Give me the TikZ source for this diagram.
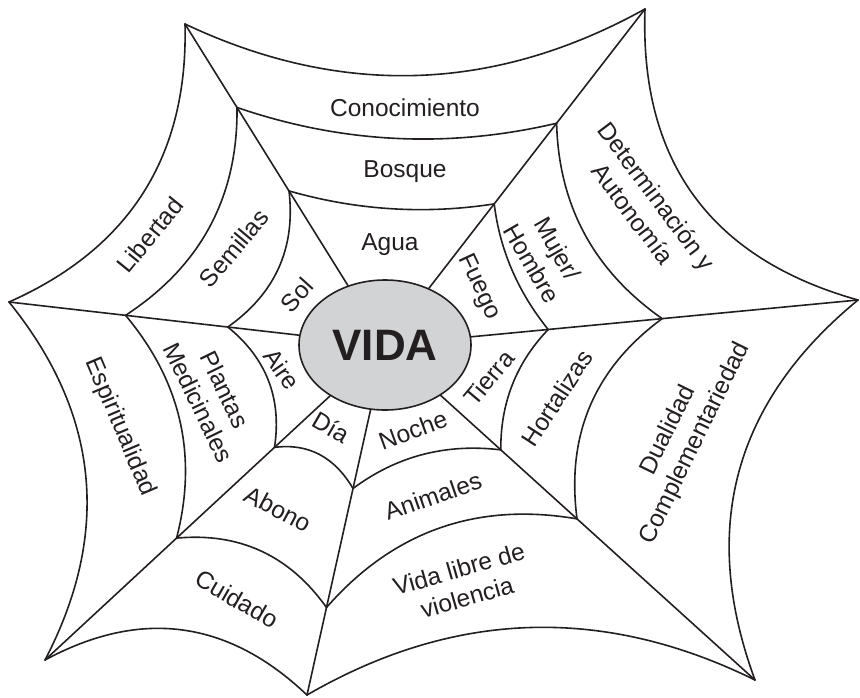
\documentclass[tikz,border=0pt]{standalone}
\usepackage{fontspec}
\setmainfont{Liberation Sans}
\usetikzlibrary{shapes.geometric,calc}
\definecolor{ink}{HTML}{231F20}
\definecolor{vgray}{HTML}{D1D3D4}
\newcommand\webarc[3]{\draw[web] (#1) .. controls ($(#1)!2/3!(#3)$) and ($(#2)!2/3!(#3)$) .. (#2);}
\begin{document}
\begin{tikzpicture}[x=1pt,y=-1pt,
  web/.style={line width=1.6pt, draw=ink, line join=round, line cap=round},
  lbl/.style={font=\fontsize{24.5}{29.5}\selectfont, text=ink, align=center, inner sep=0pt},
]
\useasboundingbox (0,0) rectangle (860,697);
\coordinate (c) at (385,345);
% outer vertices
\coordinate (TL3) at (185,24);
\coordinate (TR3) at (645,9);
\coordinate (R3) at (858,300);
\coordinate (BR3) at (755,680);
\coordinate (B3) at (307,695);
\coordinate (BL3) at (45,660);
\coordinate (L3) at (9,302);
% ring points on radials
\coordinate (TL1) at ($(c)!0.48!(TL3)$);  \coordinate (TL2) at ($(c)!0.74!(TL3)$);
\coordinate (TR1) at ($(c)!0.42!(TR3)$);  \coordinate (TR2) at ($(c)!0.66!(TR3)$);
\coordinate (R1) at ($(c)!0.345!(R3)$);   \coordinate (R2) at ($(c)!0.586!(R3)$);
\coordinate (BR1) at ($(c)!0.313!(BR3)$); \coordinate (BR2) at ($(c)!0.519!(BR3)$);
\coordinate (B1) at ($(c)!0.41!(B3)$);    \coordinate (B2) at ($(c)!0.75!(B3)$);
\coordinate (BL1) at ($(c)!0.325!(BL3)$); \coordinate (BL2) at ($(c)!0.613!(BL3)$);
\coordinate (L1) at ($(c)!0.418!(L3)$);   \coordinate (L2) at ($(c)!0.69!(L3)$);

\node[ellipse, draw=ink, line width=1.6pt, fill=vgray, minimum width=172pt, minimum height=130pt,
      inner sep=0pt, text=ink, font=\bfseries\fontsize{44}{44}\selectfont] (vida) at (c) {VIDA};

% radials
\foreach \p in {TL3,TR3,R3,BR3,B3,BL3,L3} \draw[web] (vida) -- (\p);

% arcs (quadratic, control point given)
\webarc{TL1}{TR1}{390.6,220}
\webarc{TL2}{TR2}{394.3,161.4}
\webarc{TL3}{TR3}{418.8,134.4}
\webarc{TR1}{R1}{502.6,272.9}
\webarc{TR2}{R2}{559.8,246.9}
\webarc{TR3}{R3}{637,238}
\webarc{R1}{BR1}{500.2,379.6}
\webarc{R2}{BR2}{560.5,393.2}
\webarc{R3}{BR3}{671.4,453.3}
\webarc{BR1}{B1}{418.2,439.9}
\webarc{BR2}{B2}{426.6,493.1}
\webarc{BR3}{B3}{527,567.6}
\webarc{B1}{BL1}{325,440.9}
\webarc{B2}{BL2}{271,529.4}
\webarc{B3}{BL3}{188.7,582.4}
\webarc{BL1}{L1}{285.7,373.9}
\webarc{BL2}{L2}{208.6,414.4}
\webarc{BL3}{L3}{144.4,469.2}
\webarc{L1}{TL1}{299.1,276.6}
\webarc{L2}{TL2}{238.5,241.5}
\webarc{L3}{TL3}{190,221.9}

% labels
\node[lbl] (conocimiento) at (405,108) {Conocimiento};
\node[lbl] (bosque) at (405,172) {Bosque};
\node[lbl] (agua) at (390,245) {Agua};
\node[lbl, rotate=51] (libertad) at (150,235) {Libertad};
\node[lbl, rotate=50] (semillas) at (234,248) {Semillas};
\node[lbl, rotate=48] (sol) at (297,295) {Sol};
\node[lbl, rotate=-65] (fuego) at (479,287) {Fuego};
\node[lbl, rotate=-60] (mujer) at (545,256) {Mujer/\\Hombre};
\node[lbl, rotate=-53] (determ) at (645,205) {Determinación y\\Autonomía};
\node[lbl, rotate=50] (tierra) at (489,378) {Tierra};
\node[lbl, rotate=57] (hortalizas) at (557,398) {Hortalizas};
\node[lbl, rotate=64] (dualidad) at (682,437) {Dualidad\\Complementariedad};
\node[lbl, rotate=20] (noche) at (413,430) {Noche};
\node[lbl, rotate=19] (animales) at (433,496) {Animales};
\node[lbl, rotate=16] (vidalibre) at (463,583) {Vida libre de\\violencia};
\node[lbl, rotate=-30] (dia) at (331,427) {Día};
\node[lbl, rotate=-28] (abono) at (278,509) {Abono};
\node[lbl, rotate=-30] (cuidado) at (237,599) {Cuidado};
\node[lbl, rotate=-55] (aire) at (282,369) {Aire};
\node[lbl, rotate=-64] (plantas) at (212,396) {Plantas\\Medicinales};
\node[lbl, rotate=-67] (espiritualidad) at (120,427) {Espiritualidad};
\end{tikzpicture}
\end{document}
